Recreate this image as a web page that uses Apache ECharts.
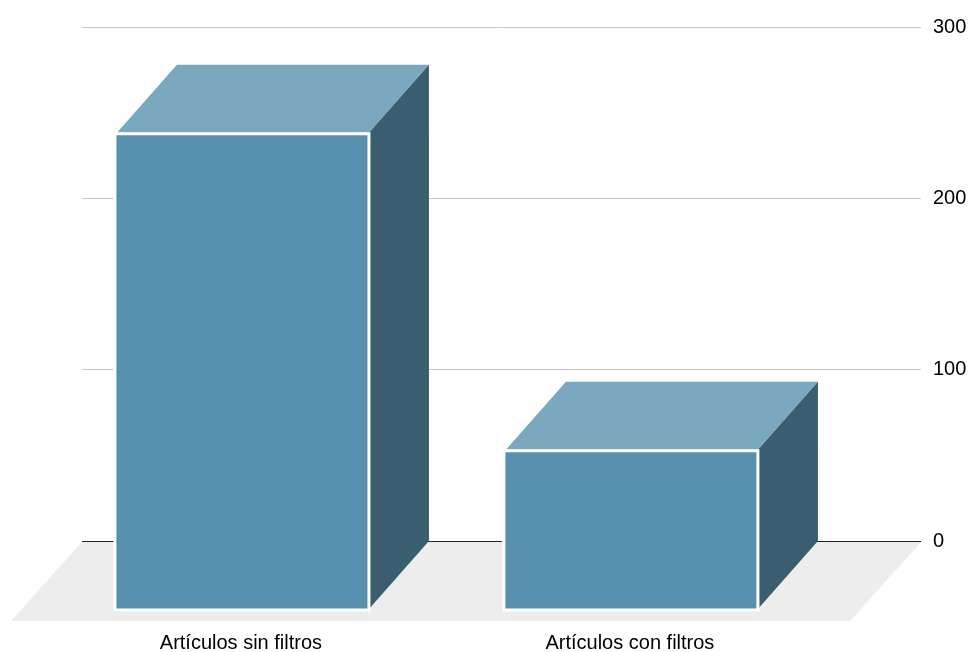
<!DOCTYPE html>
<html>
<head>
<meta charset="utf-8">
<script src="https://cdn.jsdelivr.net/npm/echarts@6/dist/echarts.min.js"></script>
<style>html,body{margin:0;padding:0;background:#fff}#c{width:968px;height:652px}</style>
</head>
<body>
<div id="c"></div>
<script>
const categories = ['Artículos sin filtros', 'Artículos con filtros'];
const values = [278, 93];
const yMin = 0, yMax = 300, yStep = 100;

const FONT = "'Liberation Sans', Arial, Helvetica, sans-serif";
const BAR_W = 0.648;
const DX = -60, DY = 68;      // bar depth offset
const FDX = -71, FDY = 80;    // floor depth offset
const X_MIN = -0.568, X_MAX = 1.589;

const chart = echarts.init(document.getElementById('c'), null, {renderer: 'canvas'});

function renderFloor(params, api) {
  const p0 = api.coord([X_MIN, 0]);
  const p1 = api.coord([X_MAX, 0]);
  const y = p0[1] + 1;
  return {
    type: 'polygon',
    shape: {points: [[p0[0], y], [p1[0], y], [p1[0] + FDX, p0[1] + FDY], [p0[0] + FDX, p0[1] + FDY]]},
    style: {fill: '#ededed'}
  };
}

function renderBar(params, api) {
  const i = api.value(0), v = api.value(1);
  const a = api.coord([i - BAR_W / 2, v]);
  const b = api.coord([i + BAR_W / 2, 0]);
  const xl = a[0], yt = a[1], xr = b[0], yb = b[1];
  return {
    type: 'group',
    children: [
      {type: 'polygon', shape: {points: [[xl + DX, yt + DY], [xr + DX, yt + DY], [xr, yt], [xl, yt]]}, style: {fill: '#7aa8bf'}},
      {type: 'polygon', shape: {points: [[xr + DX, yt + DY], [xr, yt], [xr, yb], [xr + DX, yb + DY]]}, style: {fill: '#3a5e70'}},
      {type: 'rect', shape: {x: xl + DX - 2, y: yt + DY + 1, width: xr - xl + 2, height: yb - yt}, style: {fill: '#5891af', stroke: '#ffffff', lineWidth: 3}},
      {type: 'text', style: {text: categories[i], x: (xl + xr) / 2 + DX - 2, y: yb + DY + 34, align: 'center', verticalAlign: 'middle', fontSize: 20, fontFamily: FONT, fill: '#000'}}
    ]
  };
}

chart.setOption({
  animation: false,
  backgroundColor: '#ffffff',
  grid: {left: 82, right: 47, top: 27, bottom: 111, outerBoundsMode: 'none', containLabel: false},
  xAxis: {type: 'value', min: X_MIN, max: X_MAX, show: false},
  yAxis: {
    type: 'value', position: 'right', min: yMin, max: yMax, interval: yStep,
    axisLine: {show: false}, axisTick: {show: false},
    axisLabel: {margin: 12, color: '#000', fontSize: 20, fontFamily: FONT},
    splitLine: {show: true, lineStyle: {color: ['#222222', '#c8c8c8', '#c8c8c8', '#c8c8c8'], width: 1}}
  },
  series: [
    {type: 'custom', renderItem: renderFloor, data: [[0, 0]], silent: true, clip: false},
    {type: 'custom', renderItem: renderBar, data: values.map((v, i) => [i, v]), encode: {x: 0, y: 1}, clip: false}
  ]
});
</script>
</body>
</html>
